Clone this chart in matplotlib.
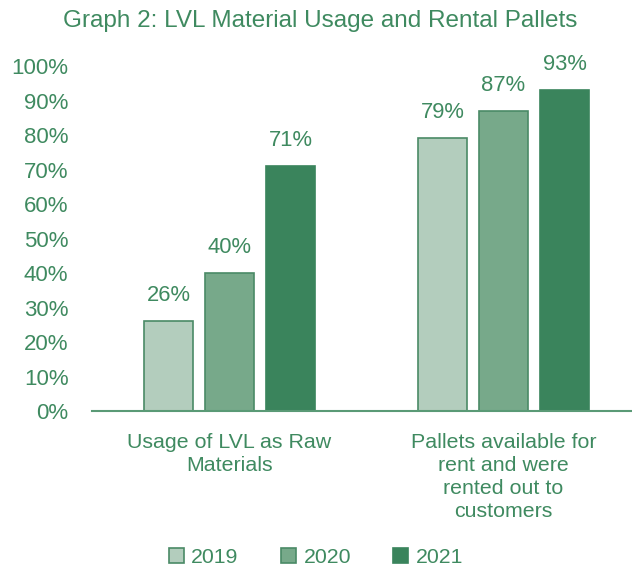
import numpy as np
import matplotlib.pyplot as plt

# -------------------------
# Data
# -------------------------
categories = ['Usage of LVL as Raw\nMaterials',
              'Pallets available for\nrent and were\nrented out to\ncustomers']
years = ['2019', '2020', '2021']
values_2019 = [26, 79]
values_2020 = [40, 87]
values_2021 = [71, 93]
y_ticks = [0, 10, 20, 30, 40, 50, 60, 70, 80, 90, 100]

# -------------------------
# Style
# -------------------------
plt.rcParams['font.family'] = ['Liberation Sans', 'DejaVu Sans']
text_color = '#3f8a60'
fills = ['#b3cdbd', '#77a98a', '#3a845c']
edges = ['#4a8a66', '#4a8a66', '#3a845c']

fig = plt.figure(figsize=(6.32, 5.68), dpi=100)
ax = fig.add_axes([0.1456, 0.2764, 0.8544, 0.6074])

x = np.arange(len(categories))
width = 0.179
step = 0.2226
series = [values_2019, values_2020, values_2021]

for i, (vals, year) in enumerate(zip(series, years)):
    bars = ax.bar(x + (i - 1) * step, vals, width, color=fills[i],
                  edgecolor=edges[i], linewidth=1.2, label=year, zorder=2)
    for b, v in zip(bars, vals):
        ax.annotate(f'{v}%', (b.get_x() + b.get_width() / 2, v),
                    xytext=(0, 11), textcoords='offset points',
                    ha='center', va='bottom', fontsize=15.8,
                    color=text_color, annotation_clip=False)

ax.set_xlim(-0.502, 1.469)
ax.set_ylim(0, 100)
ax.set_yticks(y_ticks)
ax.set_yticklabels([f'{t}%' for t in y_ticks])
ax.set_xticks(x)
ax.set_xticklabels(categories, linespacing=1.27)

ax.tick_params(axis='y', length=0, pad=17, labelsize=16, labelcolor=text_color)
ax.tick_params(axis='x', length=0, pad=15.5, labelsize=15.4, labelcolor=text_color)

for s in ['top', 'right', 'left']:
    ax.spines[s].set_visible(False)
ax.spines['bottom'].set_color('#5a9a76')
ax.spines['bottom'].set_linewidth(1.5)

fig.text(0.506, 0.963, 'Graph 2: LVL Material Usage and Rental Pallets',
         ha='center', va='center', fontsize=17.5, color=text_color)

leg = fig.legend(loc='center', bbox_to_anchor=(0.5, 0.018), ncol=3,
                 frameon=False, fontsize=15.3, handlelength=0.7,
                 handleheight=0.7, handletextpad=0.35, columnspacing=2.0)
for t in leg.get_texts():
    t.set_color(text_color)

fig.savefig('out.png', dpi=100)
